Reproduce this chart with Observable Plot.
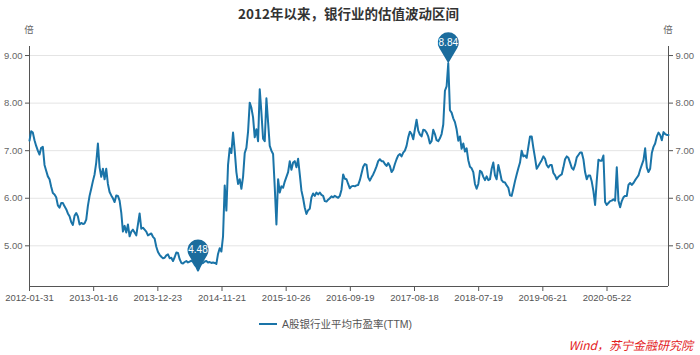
<!DOCTYPE html>
<html>
<head>
<meta charset="utf-8">
<script src="https://cdn.jsdelivr.net/npm/d3@7"></script>
<script src="https://cdn.jsdelivr.net/npm/@observablehq/plot@0.6"></script>
<style>
  body { margin: 0; background: #fff; }
  #wrap { position: relative; width: 700px; height: 355px; overflow: hidden;
          font-family: "Liberation Sans", "Noto Sans CJK SC", sans-serif; }
  #chart { position: absolute; left: 0; top: 0; }
  .abs { position: absolute; white-space: nowrap; }
  #title { left: 0; top: 3px; width: 697px; text-align: center; font-size: 13.5px; font-weight: bold; color: #333;
           font-family: "Noto Sans CJK SC", sans-serif; }
  .unit { top: 22px; width: 20px; text-align: center; font-size: 9.5px; color: #666; font-family: "Noto Sans CJK SC", sans-serif; }
  #legend { left: 259px; top: 316px; font-size: 10.5px; color: #555; font-family: "Liberation Sans", "Noto Sans CJK SC", sans-serif; }
  #legend .sw { display: inline-block; width: 18px; height: 2px; vertical-align: middle; margin-right: 5px; position: relative; top: -1px; }
  #source { right: 7px; top: 336px; font-size: 12px; font-style: italic; color: #e3211c; font-family: "Noto Sans CJK SC", sans-serif; }
</style>
</head>
<body>
<div id="wrap">
  <div id="chart"></div>
  <div id="title" class="abs"></div>
  <div id="unitL" class="abs unit"></div>
  <div id="unitR" class="abs unit"></div>
  <div id="legend" class="abs"></div>
  <div id="source" class="abs"></div>
</div>
<script>
// ---------------- data ----------------
const title = "2012年以来，银行业的估值波动区间";
const unit = "倍";
const seriesName = "A股银行业平均市盈率(TTM)";
const source = "Wind，苏宁金融研究院";

// x-axis tick labels (evenly spaced trading-day index positions)
const tickLabels = ["2012-01-31", "2013-01-16", "2013-12-23", "2014-11-21", "2015-10-26",
                    "2016-09-19", "2017-08-18", "2018-07-19", "2019-06-21", "2020-05-22"];
const samplesPerTick = 38.46;   // samples between consecutive date labels
const yTicks = [5, 6, 7, 8, 9];

// sampled PE values (uniform sampling, left to right)
const values = [
  7.21, 7.41, 7.38, 7.22, 7.10, 7.00, 6.92, 7.06, 7.08, 6.70,
  6.58, 6.46, 6.40, 6.24, 6.11, 6.08, 6.02, 5.85, 5.80, 5.90,
  5.90, 5.83, 5.77, 5.68, 5.62, 5.50, 5.44, 5.63, 5.69, 5.62,
  5.45, 5.48, 5.46, 5.47, 5.55, 5.84, 6.05, 6.20, 6.36, 6.50,
  6.75, 7.15, 6.65, 6.45, 6.62, 6.40, 6.62, 6.30, 6.13, 6.06,
  6.00, 5.92, 6.06, 6.05, 5.95, 5.70, 5.30, 5.42, 5.28, 5.45,
  5.20, 5.30, 5.34, 5.28, 5.22, 5.45, 5.68, 5.36, 5.38, 5.34,
  5.30, 5.22, 5.24, 5.26, 5.19, 5.15, 4.98, 4.87, 4.81, 4.77,
  4.74, 4.75, 4.80, 4.82, 4.74, 4.75, 4.68, 4.76, 4.86, 4.85,
  4.72, 4.64, 4.63, 4.66, 4.68, 4.65, 4.67, 4.69, 4.66, 4.60,
  4.56, 4.48, 4.56, 4.63, 4.64, 4.67, 4.68, 4.65, 4.66, 4.64,
  4.65, 4.64, 4.62, 4.83, 4.95, 4.88, 5.20, 6.27, 5.74, 6.70,
  7.05, 6.95, 7.38, 7.00, 6.55, 6.30, 6.40, 6.20, 6.45, 6.95,
  7.06, 7.40, 8.01, 7.90, 7.70, 7.28, 7.45, 7.20, 8.29, 7.80,
  7.25, 7.20, 8.10, 7.60, 7.10, 7.00, 6.93, 6.23, 5.45, 6.40,
  6.12, 6.25, 6.22, 6.35, 6.45, 6.55, 6.78, 6.60, 6.75, 6.78,
  6.65, 6.83, 6.50, 6.16, 6.00, 5.80, 5.67, 5.75, 5.78, 6.02,
  6.10, 6.05, 6.12, 6.08, 6.12, 6.07, 6.05, 5.94, 5.93, 5.97,
  6.00, 6.04, 6.02, 6.05, 6.03, 6.01, 6.05, 6.18, 6.50, 6.41,
  6.40, 6.30, 6.21, 6.25, 6.26, 6.25, 6.27, 6.28, 6.38, 6.52,
  6.66, 6.72, 6.70, 6.44, 6.37, 6.44, 6.50, 6.58, 6.67, 6.78,
  6.82, 6.78, 6.78, 6.72, 6.68, 6.74, 6.68, 6.55, 6.60, 6.72,
  6.82, 6.90, 6.93, 6.88, 6.96, 7.00, 7.10, 7.28, 7.40, 7.35,
  7.24, 7.45, 7.65, 7.42, 7.34, 7.30, 7.44, 7.43, 7.38, 7.30,
  7.15, 7.20, 7.44, 7.35, 7.22, 7.20, 7.26, 7.35, 7.55, 8.26,
  8.35, 8.84, 7.85, 7.80, 7.68, 7.60, 7.45, 7.21, 7.30, 7.04,
  7.15, 6.98, 7.05, 6.80, 6.66, 6.63, 6.55, 6.30, 6.20, 6.30,
  6.58, 6.55, 6.45, 6.38, 6.46, 6.38, 6.40, 6.62, 6.75, 6.48,
  6.40, 6.70, 6.55, 6.38, 6.34, 6.33, 6.27, 6.22, 6.06, 6.05,
  6.20, 6.36, 6.50, 6.63, 6.75, 7.00, 6.88, 6.90, 6.85, 7.08,
  7.30, 7.30, 7.06, 6.85, 6.62, 6.68, 6.74, 6.80, 6.88, 6.83,
  6.70, 6.65, 6.70, 6.70, 6.53, 6.48, 6.40, 6.45, 6.48, 6.50,
  6.65, 6.82, 6.88, 6.85, 6.75, 6.64, 6.60, 6.70, 6.86, 6.91,
  6.96, 6.96, 6.82, 6.55, 6.40, 6.48, 6.48, 6.35, 6.15, 5.86,
  6.37, 6.81, 6.79, 6.79, 6.90, 5.92, 5.86, 5.90, 5.94, 5.95,
  5.98, 5.95, 6.65, 5.95, 5.81, 5.94, 6.02, 6.05, 6.05, 6.28,
  6.32, 6.28, 6.32, 6.38, 6.43, 6.48, 6.60, 6.70, 6.80, 7.05,
  6.65, 6.55, 6.62, 6.95, 7.08, 7.15, 7.30, 7.38, 7.33, 7.22,
  7.39, 7.35, 7.33, 7.33
];

// ---------------- styling ----------------
const lineColor = "#1a74a8";
const pinColor = "#1b6c9d";
const axisColor = "#555";

const data = values.map((v, i) => ({i, v}));
const n = values.length;
const tickPos = tickLabels.map((_, k) => k * samplesPerTick);
const iMin = d3.minIndex(values), iMax = d3.maxIndex(values);
const pins = [iMin, iMax].map(i => ({i, v: values[i]}));

// balloon-pin symbol with tip at the data point
const pinSymbol = {
  draw(ctx) {
    const R = 10.5, h = 20.5, t = Math.acos(R / h);
    ctx.moveTo(0, 0);
    ctx.arc(0, -h, R, Math.PI / 2 - t, Math.PI / 2 + t, true);
    ctx.closePath();
  }
};

const yDomain = [4.145, 9.19];

const chart = Plot.plot({
  width: 700,
  height: 355,
  marginTop: 46,
  marginBottom: 69,
  marginLeft: 29,
  marginRight: 32,
  style: {fontFamily: '"Liberation Sans", "Noto Sans CJK SC", sans-serif', fontSize: "9.5px", color: "#666", background: "transparent", overflow: "visible"},
  x: {domain: [0, n - 1], axis: null},
  y: {domain: yDomain, axis: null},
  marks: [
    Plot.gridY(yTicks, {stroke: "#e4e4e4", strokeOpacity: 1, strokeWidth: 1}),
    Plot.axisY(yTicks, {anchor: "left", tickSize: 4, tickPadding: 3, tickFormat: d => d.toFixed(2), stroke: axisColor, fill: "#666", label: null}),
    Plot.axisY(yTicks, {anchor: "right", tickSize: 4, tickPadding: 3, tickFormat: d => d.toFixed(2), stroke: axisColor, fill: "#666", label: null}),
    Plot.axisX(tickPos, {anchor: "bottom", tickSize: 5, tickPadding: 3, tickFormat: d => tickLabels[Math.round(d / samplesPerTick)], stroke: axisColor, fill: "#555", label: null}),
    Plot.ruleX([0, n - 1], {stroke: axisColor, strokeWidth: 1}),
    Plot.ruleY([yDomain[0]], {stroke: axisColor, strokeWidth: 1}),
    Plot.line(data, {x: "i", y: "v", stroke: lineColor, strokeWidth: 2, strokeLinejoin: "round"}),
    Plot.dot(pins, {x: "i", y: "v", symbol: pinSymbol, fill: pinColor, stroke: "none"}),
    Plot.text(pins, {x: "i", y: "v", text: d => d.v.toFixed(2), dy: -20.5, fill: "white", fontSize: 10})
  ]
});
document.getElementById("chart").appendChild(chart);

document.getElementById("title").textContent = title;
const uL = document.getElementById("unitL"); uL.textContent = unit; uL.style.left = (29 - 10) + "px";
const uR = document.getElementById("unitR"); uR.textContent = unit; uR.style.left = (668 - 10) + "px";
document.getElementById("legend").innerHTML = `<span class="sw" style="background:${lineColor}"></span>${seriesName}`;
document.getElementById("source").textContent = source;
</script>
</body>
</html>
